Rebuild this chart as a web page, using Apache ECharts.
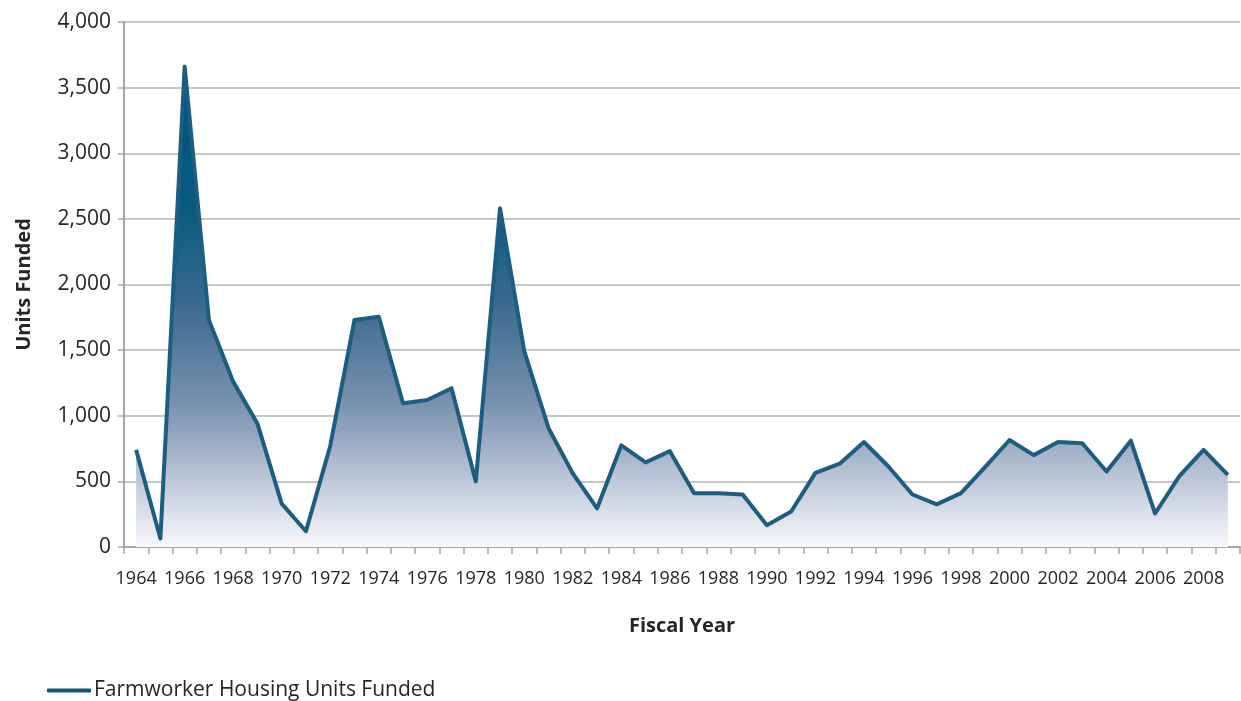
<!DOCTYPE html>
<html>
<head>
<meta charset="utf-8">
<script src="https://cdn.jsdelivr.net/npm/echarts@6/dist/echarts.min.js"></script>
<style>
html,body{margin:0;padding:0;background:#fff;}
#chart{width:1241px;height:701px;}
</style>
</head>
<body>
<div id="chart"></div>
<script>
const years = ['1964','1965','1966','1967','1968','1969','1970','1971','1972','1973','1974','1975','1976','1977','1978','1979','1980','1981','1982','1983','1984','1985','1986','1987','1988','1989','1990','1991','1992','1993','1994','1995','1996','1997','1998','1999','2000','2001','2002','2003','2004','2005','2006','2007','2008','2009'];
const unitsFunded = [740,65,3660,1730,1260,940,330,120,770,1730,1755,1095,1120,1210,500,2580,1490,905,560,295,775,645,730,410,410,400,166,270,565,635,800,615,400,325,410,610,815,700,800,790,575,810,255,540,740,550];
const seriesName = 'Farmworker Housing Units Funded';
const yTicks = [0,500,1000,1500,2000,2500,3000,3500,4000];

const chart = echarts.init(document.getElementById('chart'), null, {renderer:'canvas'});
const font = '"Open Sans", "Noto Sans", sans-serif';
chart.setOption({
  animation:false,
  backgroundColor:'#ffffff',
  grid:{left:124,right:1,top:22,bottom:154,containLabel:false},
  legend:{
    left:47, top:680, padding:0,
    itemWidth:44, itemHeight:4, itemGap:10,
    icon:'roundRect',
    data:[{name:seriesName, icon:'roundRect', itemStyle:{color:'#0b577c'}}],
    textStyle:{fontFamily:font, fontSize:21, color:'#262626', padding:[0,0,0,-2]}
  },
  xAxis:{
    type:'category',
    data:years,
    boundaryGap:true,
    name:'Fiscal Year',
    nameLocation:'middle',
    nameGap:69,
    nameTextStyle:{fontFamily:font, fontSize:20, fontWeight:'bold', color:'#262626'},
    axisLine:{show:true, lineStyle:{color:'#a6a6a6', width:2}},
    axisTick:{show:true, interval:0, length:7, lineStyle:{color:'#a6a6a6', width:1.5}},
    axisLabel:{interval:1, margin:23, fontFamily:font, fontSize:18, color:'#262626'},
    splitLine:{show:false}
  },
  yAxis:{
    type:'value',
    min:0, max:4000, interval:500,
    name:'Units Funded',
    nameLocation:'middle',
    nameGap:90,
    nameRotate:90,
    nameTextStyle:{fontFamily:font, fontSize:20, fontWeight:'bold', color:'#262626'},
    axisLine:{show:true, lineStyle:{color:'#a6a6a6', width:2}},
    axisTick:{show:true, length:6, lineStyle:{color:'#a6a6a6', width:1.5}},
    axisLabel:{margin:13, fontFamily:font, fontSize:21, color:'#262626',
      formatter:function(v){return yTicks.indexOf(v)>=0 ? v.toLocaleString('en-US') : '';}},
    splitLine:{show:true, lineStyle:{color:'#b5b5b5', width:1.5}}
  },
  series:[{
    name:seriesName,
    type:'line',
    data:unitsFunded,
    symbol:'none',
    smooth:false,
    lineStyle:{color:'#1c5e81', width:4, join:'round'},
    itemStyle:{color:'#0b577c'},
    areaStyle:{
      color:new echarts.graphic.LinearGradient(0,0,0,1,[
        {offset:0, color:'#00537a'},
        {offset:0.3, color:'#0a5a80'},
        {offset:0.5, color:'#3d6b8f'},
        {offset:0.7, color:'#7891ae'},
        {offset:0.85, color:'#b9c3d5'},
        {offset:1, color:'#f8f8fc'}
      ]),
      opacity:1
    }
  }]
});
</script>
</body>
</html>
